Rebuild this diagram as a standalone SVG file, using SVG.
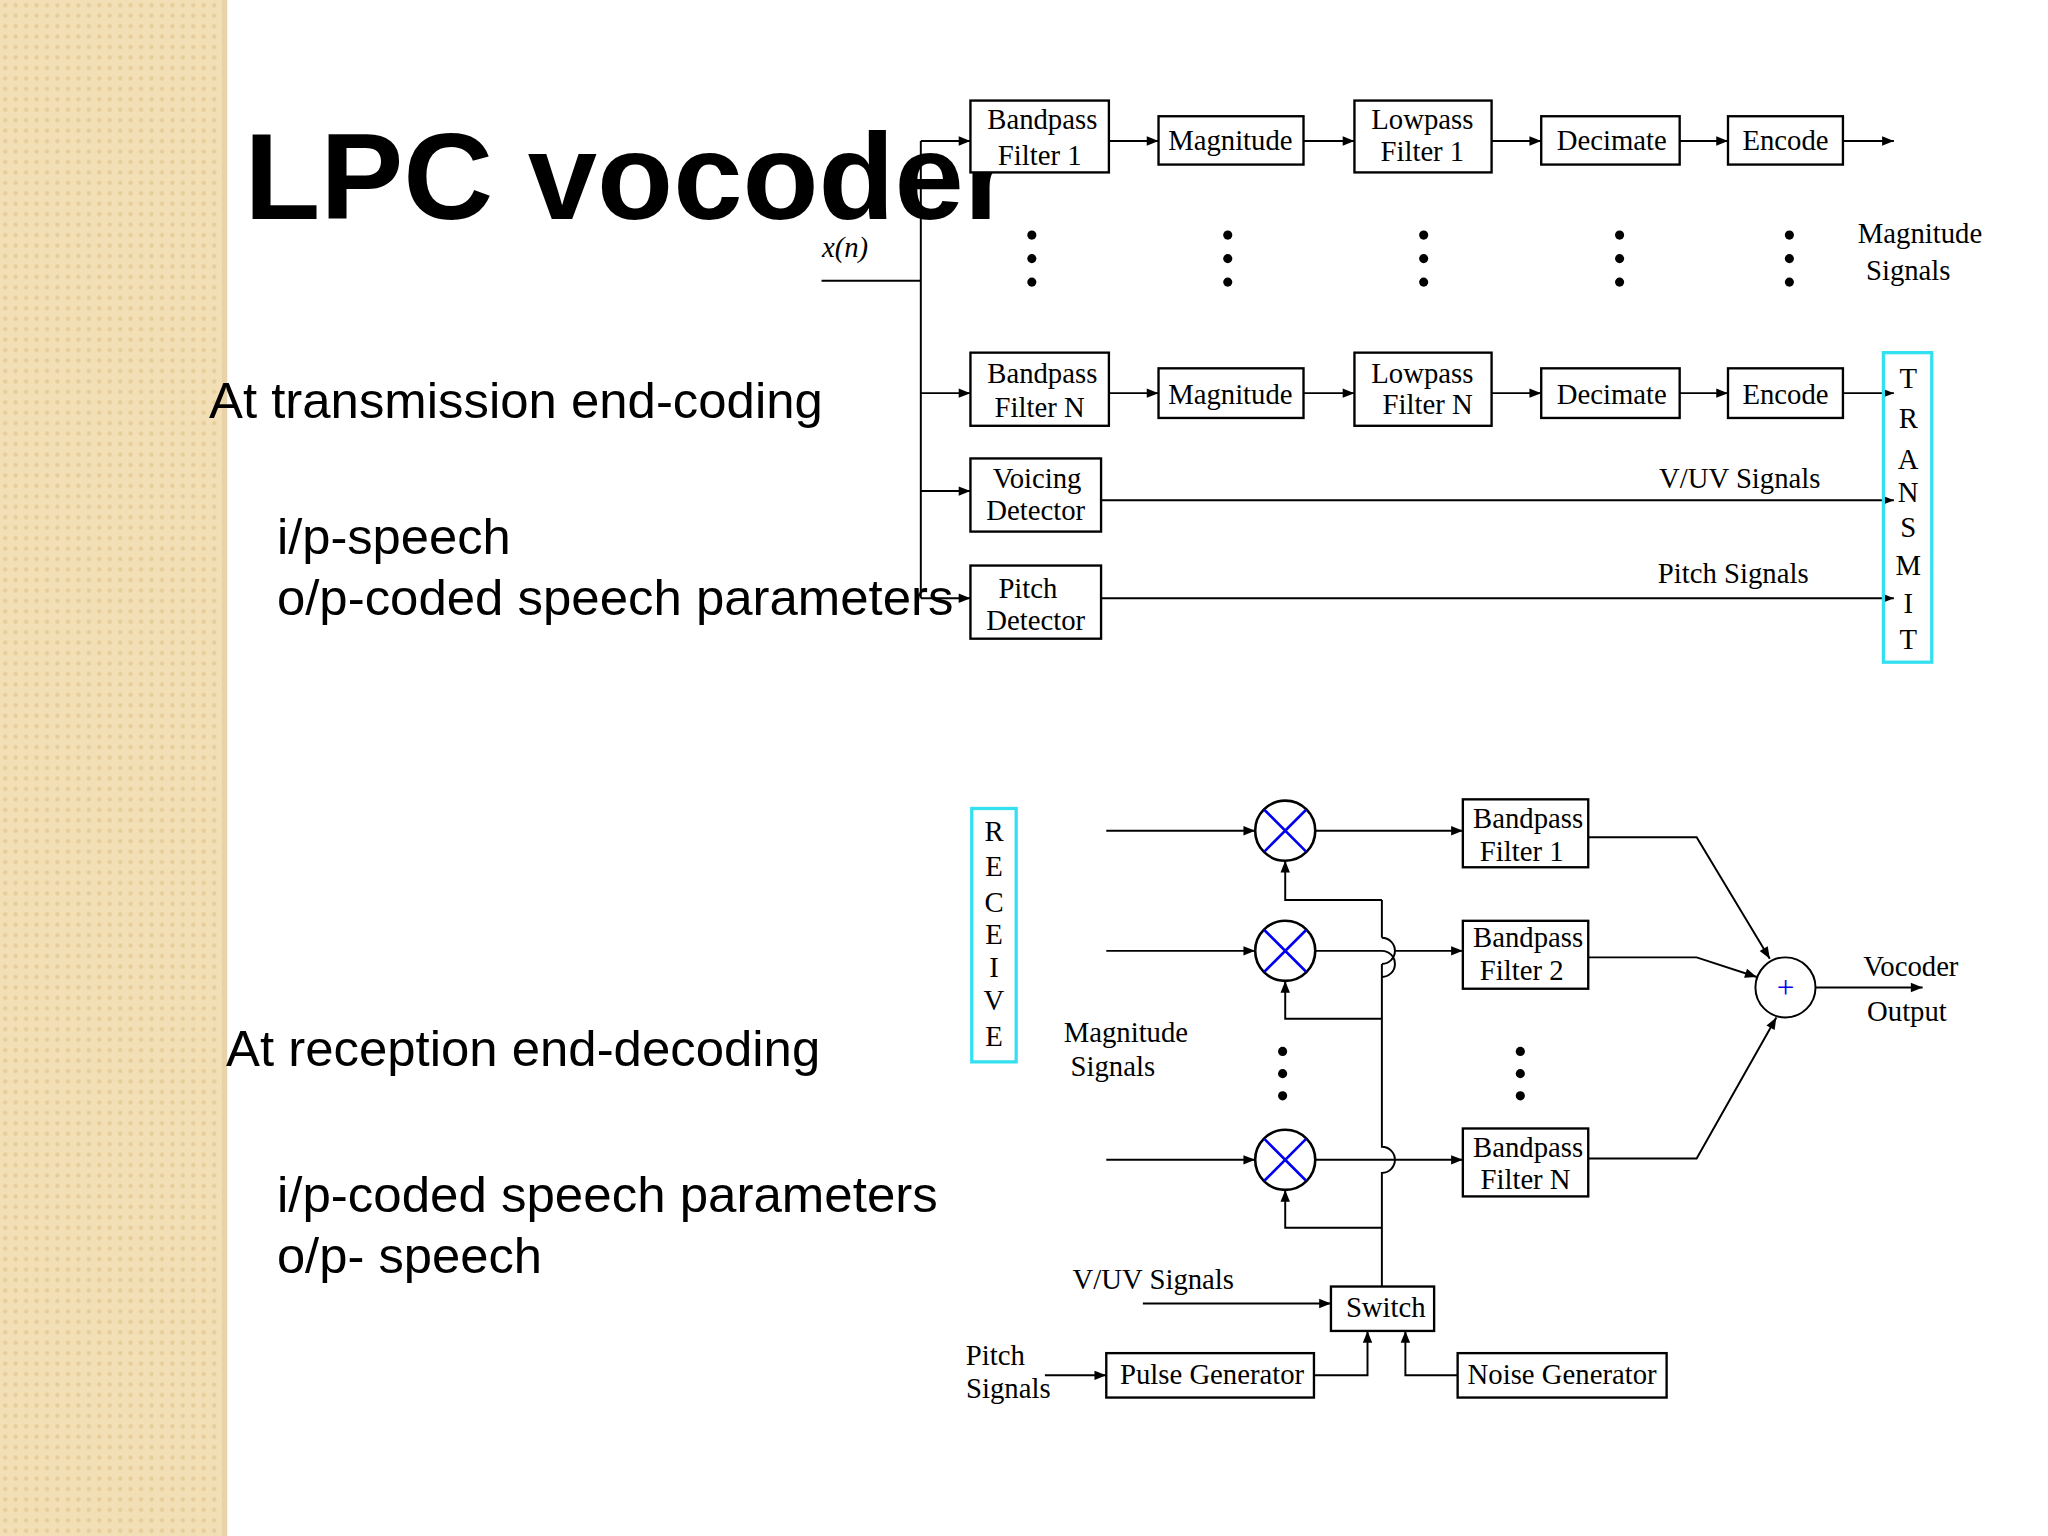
<svg xmlns="http://www.w3.org/2000/svg" width="2048" height="1536" viewBox="0 0 2048 1536">
<defs>
<pattern id="pt" width="8" height="8" patternUnits="userSpaceOnUse"><rect width="8" height="8" fill="#f2dfb6"/><circle cx="4" cy="4" r="1.6" fill="#e6cc98"/></pattern>
<marker id="ab" viewBox="0 0 10 10" refX="10" refY="5" markerWidth="14" markerHeight="9" orient="auto" markerUnits="userSpaceOnUse"><path d="M0,1 L10,5 L0,9 z" fill="#000"/></marker>
<style>
.b{fill:#fff;stroke:#000;stroke-width:1.8}
.t{font-family:"Liberation Serif",serif;font-size:22px;fill:#000;text-anchor:middle}
.h{font-family:"Liberation Sans",Arial,sans-serif;font-size:38px;fill:#000}
.l{fill:none;stroke:#000;stroke-width:1.5}
.c{fill:none;stroke:#33e0f0;stroke-width:2.5}
.d{fill:#000}
</style>
</defs>
<rect width="2048" height="1536" fill="#fff"/>
<g transform="scale(1.30612)">
<rect x="0" y="0" width="173" height="1176" fill="url(#pt)"/>
<rect x="170" y="0" width="4" height="1176" fill="#e8d3a8"/>
<g id="connectors">
<path class="l" d="M629,215 H705 M705,108 V458"/>
<path class="l" d="M705,108 H743" marker-end="url(#ab)"/>
<path class="l" d="M705,301 H743" marker-end="url(#ab)"/>
<path class="l" d="M705,376 H743" marker-end="url(#ab)"/>
<path class="l" d="M705,458 H743" marker-end="url(#ab)"/>
<path class="l" d="M849,108 H887" marker-end="url(#ab)"/><path class="l" d="M998,108 H1037" marker-end="url(#ab)"/><path class="l" d="M1142,108 H1180" marker-end="url(#ab)"/><path class="l" d="M1286,108 H1323" marker-end="url(#ab)"/><path class="l" d="M1411,108 H1450" marker-end="url(#ab)"/>
<path class="l" d="M849,301 H887" marker-end="url(#ab)"/><path class="l" d="M998,301 H1037" marker-end="url(#ab)"/><path class="l" d="M1142,301 H1180" marker-end="url(#ab)"/><path class="l" d="M1286,301 H1323" marker-end="url(#ab)"/><path class="l" d="M1411,301 H1450" marker-end="url(#ab)"/>
<path class="l" d="M843,383 H1450" marker-end="url(#ab)"/>
<path class="l" d="M843,458 H1450" marker-end="url(#ab)"/>
<path class="l" d="M847,636 H961" marker-end="url(#ab)"/>
<path class="l" d="M847,728 H961" marker-end="url(#ab)"/>
<path class="l" d="M847,888 H961" marker-end="url(#ab)"/>
<path class="l" d="M1007,636 H1120" marker-end="url(#ab)"/>
<path class="l" d="M1007,728 H1058 A10,10 0 0 1 1058,748 M1058,748 M1068,728 H1120" marker-end="url(#ab)"/>
<path class="l" d="M1058,718 A10,10 0 0 1 1058,738"/>
<path class="l" d="M1007,888 H1120" marker-end="url(#ab)"/>
<path class="l" d="M1058,985 V898 A10,10 0 0 0 1058,878 V738 M1058,718 V689"/>
<path class="l" d="M1058,689 H984 V659" marker-end="url(#ab)"/>
<path class="l" d="M1058,780 H984 V751" marker-end="url(#ab)"/>
<path class="l" d="M1058,940 H984 V911" marker-end="url(#ab)"/>
<path class="l" d="M1216,641 H1299 L1355,734" marker-end="url(#ab)"/>
<path class="l" d="M1216,733 H1299 L1345,748" marker-end="url(#ab)"/>
<path class="l" d="M1216,887 H1299 L1360,779" marker-end="url(#ab)"/>
<path class="l" d="M1390,756 H1472" marker-end="url(#ab)"/>
<path class="l" d="M875,998 H1019" marker-end="url(#ab)"/>
<path class="l" d="M800,1053 H847" marker-end="url(#ab)"/>
<path class="l" d="M1006,1053 H1047 V1019" marker-end="url(#ab)"/>
<path class="l" d="M1116,1053 H1076 V1019" marker-end="url(#ab)"/>
</g>
<text x="187" y="168" font-family="Liberation Sans,Arial,sans-serif" font-weight="bold" font-size="94" textLength="588" lengthAdjust="spacingAndGlyphs">LPC vocoder</text>
<text class="h" x="160" y="320" textLength="470" lengthAdjust="spacingAndGlyphs">At transmission end-coding</text>
<text class="h" x="212" y="424" textLength="179" lengthAdjust="spacingAndGlyphs">i/p-speech</text>
<text class="h" x="212" y="471" textLength="518" lengthAdjust="spacingAndGlyphs">o/p-coded speech parameters</text>
<text class="h" x="173" y="816" textLength="455" lengthAdjust="spacingAndGlyphs">At reception end-decoding</text>
<text class="h" x="212" y="928" textLength="506" lengthAdjust="spacingAndGlyphs">i/p-coded speech parameters</text>
<text class="h" x="212" y="975" textLength="203" lengthAdjust="spacingAndGlyphs">o/p- speech</text>
<text class="t" x="647" y="197" font-style="italic">x(n)</text>
<g id="bp1"><rect class="b" x="743" y="77" width="106" height="55"/><text class="t" x="798" y="99">Bandpass</text><text class="t" x="796" y="126">Filter 1</text></g>
<g id="mag1"><rect class="b" x="887" y="89" width="111" height="37"/><text class="t" x="942" y="115">Magnitude</text></g>
<g id="lp1"><rect class="b" x="1037" y="77" width="105" height="55"/><text class="t" x="1089" y="99">Lowpass</text><text class="t" x="1089" y="123">Filter 1</text></g>
<g id="dec1"><rect class="b" x="1180" y="89" width="106" height="37"/><text class="t" x="1234" y="115">Decimate</text></g>
<g id="enc1"><rect class="b" x="1323" y="89" width="88" height="37"/><text class="t" x="1367" y="115">Encode</text></g>
<g id="bpn"><rect class="b" x="743" y="270" width="106" height="56"/><text class="t" x="798" y="293">Bandpass</text><text class="t" x="796" y="319">Filter N</text></g>
<g id="magn"><rect class="b" x="887" y="282" width="111" height="38"/><text class="t" x="942" y="309">Magnitude</text></g>
<g id="lpn"><rect class="b" x="1037" y="270" width="105" height="56"/><text class="t" x="1089" y="293">Lowpass</text><text class="t" x="1093" y="317">Filter N</text></g>
<g id="decn"><rect class="b" x="1180" y="282" width="106" height="38"/><text class="t" x="1234" y="309">Decimate</text></g>
<g id="encn"><rect class="b" x="1323" y="282" width="88" height="38"/><text class="t" x="1367" y="309">Encode</text></g>
<g id="voice"><rect class="b" x="743" y="351" width="100" height="56"/><text class="t" x="794" y="374">Voicing</text><text class="t" x="793" y="398">Detector</text></g>
<g id="pitch"><rect class="b" x="743" y="433" width="100" height="56"/><text class="t" x="787" y="458">Pitch</text><text class="t" x="793" y="482">Detector</text></g>
<g id="dots1" class="d">
<circle cx="790" cy="180" r="3.5"/><circle cx="790" cy="198" r="3.5"/><circle cx="790" cy="216" r="3.5"/>
<circle cx="940" cy="180" r="3.5"/><circle cx="940" cy="198" r="3.5"/><circle cx="940" cy="216" r="3.5"/>
<circle cx="1090" cy="180" r="3.5"/><circle cx="1090" cy="198" r="3.5"/><circle cx="1090" cy="216" r="3.5"/>
<circle cx="1240" cy="180" r="3.5"/><circle cx="1240" cy="198" r="3.5"/><circle cx="1240" cy="216" r="3.5"/>
<circle cx="1370" cy="180" r="3.5"/><circle cx="1370" cy="198" r="3.5"/><circle cx="1370" cy="216" r="3.5"/>
</g>
<text class="t" x="1470" y="186">Magnitude</text><text class="t" x="1461" y="214">Signals</text>
<text class="t" x="1332" y="374">V/UV Signals</text>
<text class="t" x="1327" y="446">Pitch Signals</text>
<g id="transmit"><rect class="c" x="1442" y="270" width="37" height="237"/>
<text class="t" x="1461" y="297">T</text><text class="t" x="1461" y="328">R</text><text class="t" x="1461" y="359">A</text><text class="t" x="1461" y="384">N</text><text class="t" x="1461" y="411">S</text><text class="t" x="1461" y="440">M</text><text class="t" x="1461" y="469">I</text><text class="t" x="1461" y="497">T</text></g>
<g id="receive"><rect class="c" x="744" y="619" width="34" height="194"/>
<text class="t" x="761" y="644">R</text><text class="t" x="761" y="671">E</text><text class="t" x="761" y="698">C</text><text class="t" x="761" y="723">E</text><text class="t" x="761" y="748">I</text><text class="t" x="761" y="773">V</text><text class="t" x="761" y="801">E</text></g>
<g id="m1"><circle cx="984" cy="636" r="23" fill="#fff" stroke="#000" stroke-width="2"/><path d="M968,620 L1000,652 M1000,620 L968,652" stroke="#0000ee" stroke-width="2"/></g>
<g id="m2"><circle cx="984" cy="728" r="23" fill="#fff" stroke="#000" stroke-width="2"/><path d="M968,712 L1000,744 M1000,712 L968,744" stroke="#0000ee" stroke-width="2"/></g>
<g id="m3"><circle cx="984" cy="888" r="23" fill="#fff" stroke="#000" stroke-width="2"/><path d="M968,872 L1000,904 M1000,872 L968,904" stroke="#0000ee" stroke-width="2"/></g>
<g id="rbp1"><rect class="b" x="1120" y="612" width="96" height="52"/><text class="t" x="1170" y="634">Bandpass</text><text class="t" x="1165" y="659">Filter 1</text></g>
<g id="rbp2"><rect class="b" x="1120" y="705" width="96" height="52"/><text class="t" x="1170" y="725">Bandpass</text><text class="t" x="1165" y="750">Filter 2</text></g>
<g id="rbpn"><rect class="b" x="1120" y="864" width="96" height="52"/><text class="t" x="1170" y="886">Bandpass</text><text class="t" x="1168" y="910">Filter N</text></g>
<g id="sum"><circle cx="1367" cy="756" r="23" fill="#fff" stroke="#000" stroke-width="1.5"/><text x="1367" y="764" font-family="Liberation Serif,serif" font-size="24" fill="#0000ee" text-anchor="middle">+</text></g>
<text class="t" x="1463" y="747">Vocoder</text><text class="t" x="1460" y="782">Output</text>
<text class="t" x="862" y="798">Magnitude</text><text class="t" x="852" y="824">Signals</text>
<g class="d"><circle cx="982" cy="805" r="3.5"/><circle cx="982" cy="822" r="3.5"/><circle cx="982" cy="839" r="3.5"/>
<circle cx="1164" cy="805" r="3.5"/><circle cx="1164" cy="822" r="3.5"/><circle cx="1164" cy="839" r="3.5"/></g>
<g id="switch"><rect class="b" x="1019" y="985" width="79" height="34"/><text class="t" x="1061" y="1008">Switch</text></g>
<text class="t" x="883" y="987">V/UV Signals</text>
<g id="pulse"><rect class="b" x="847" y="1036" width="159" height="34"/><text class="t" x="928" y="1060">Pulse Generator</text></g>
<g id="noise"><rect class="b" x="1116" y="1036" width="160" height="34"/><text class="t" x="1196" y="1060">Noise Generator</text></g>
<text class="t" x="762" y="1045">Pitch</text><text class="t" x="772" y="1070">Signals</text>
</g>
</svg>
